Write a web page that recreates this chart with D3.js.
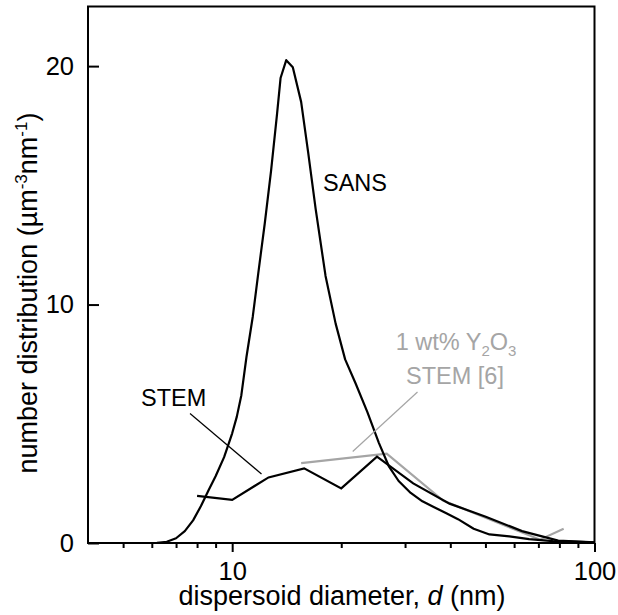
<!DOCTYPE html>
<html>
<head>
<meta charset="utf-8">
<script src="https://cdn.jsdelivr.net/npm/d3@7"></script>
<style>
  body { margin: 0; background: #fff; }
  text { font-family: "Liberation Sans", Arial, sans-serif; }
</style>
</head>
<body>
<svg id="chart" width="618" height="615"></svg>
<script>
// SANS size distribution (smooth curve)
var sansX = [4, 5.5, 6.2, 6.6, 7.0, 7.4, 7.8, 8.2, 8.6, 9.0, 9.5, 10.0, 10.3, 10.6, 10.95, 11.4, 11.8, 12.3, 12.8, 13.3, 13.6, 14.1, 14.7,
             15.5, 16.2, 17.0, 18.1, 19.3, 20.5, 21.9, 23.6, 25.4, 27.1, 28.8, 31.1, 33.5, 36.1, 39.0, 42.0, 46.4, 51.3, 58.2, 66.0, 76.7, 100];
var sansY = [0, 0, 0.01, 0.05, 0.2, 0.5, 0.95, 1.55, 2.2, 2.8, 3.6, 4.6, 5.3, 6.2, 7.8, 9.5, 11.3, 13.4, 15.6, 18.0, 19.5, 20.25, 19.95,
             18.5, 16.4, 14.0, 11.2, 9.2, 7.7, 6.7, 5.5, 4.2, 3.2, 2.6, 2.1, 1.75, 1.5, 1.25, 1.0, 0.6, 0.36, 0.28, 0.16, 0.08, 0.03];

// STEM histogram (this work)
var stemX = [8.0, 10.0, 12.6, 15.8, 20.0, 25.1, 31.6, 39.8, 50.1, 63.1, 79.4, 100];
var stemY = [1.98, 1.81, 2.75, 3.13, 2.29, 3.62, 2.5, 1.65, 1.1, 0.5, 0.1, 0.03];

// 1 wt% Y2O3, STEM [6]
var refX = [15.5, 26.7, 38.2, 70.7, 82.2];
var refY = [3.35, 3.75, 1.78, 0.14, 0.6];

var xMajor = [10, 100];
var xMinor = [5, 6, 7, 8, 9, 20, 30, 40, 50, 60, 70, 80, 90];
var yTicks = [0, 10, 20];

var svg = d3.select("#chart");
var plot = {left: 88, right: 594.5, top: 6.5, bottom: 543};

var x = d3.scaleLog().domain([4, 100]).range([plot.left, plot.right]);
var y = d3.scaleLinear().domain([0, 22.5]).range([plot.bottom, plot.top]);

var line = d3.line()
    .x(function(d) { return x(d[0]); })
    .y(function(d) { return y(d[1]); });

// frame
svg.append("rect")
    .attr("x", plot.left).attr("y", plot.top)
    .attr("width", plot.right - plot.left).attr("height", plot.bottom - plot.top)
    .attr("fill", "none").attr("stroke", "#000").attr("stroke-width", 2);

// x axis: minor then major ticks
var xMin = svg.append("g")
    .attr("transform", "translate(0," + plot.bottom + ")")
    .call(d3.axisBottom(x).tickValues(xMinor).tickSize(5).tickFormat(""));
var xMaj = svg.append("g")
    .attr("transform", "translate(0," + plot.bottom + ")")
    .call(d3.axisBottom(x).tickValues(xMajor).tickSize(9).tickPadding(10)
          .tickFormat(function(d) { return d; }));

// y axis, ticks pointing inward
var yAx = svg.append("g")
    .attr("transform", "translate(" + plot.left + ",0)")
    .call(d3.axisLeft(y).tickValues(yTicks).tickSizeInner(-11).tickSizeOuter(0).tickPadding(14));

[xMin, xMaj, yAx].forEach(function(g) {
  g.select(".domain").remove();
  g.selectAll("line").attr("stroke", "#000").attr("stroke-width", 2);
  g.selectAll("text").attr("fill", "#000")
    .style("font-size", "25.5px")
    .style("font-family", "'Liberation Sans', Arial, sans-serif");
});

// data lines
svg.append("path")
    .datum(d3.zip(refX, refY))
    .attr("d", line)
    .attr("fill", "none").attr("stroke", "#a5a5a5").attr("stroke-width", 2.2);

svg.append("path")
    .datum(d3.zip(stemX, stemY))
    .attr("d", line)
    .attr("fill", "none").attr("stroke", "#000").attr("stroke-width", 2.2);

svg.append("path")
    .datum(d3.zip(sansX, sansY))
    .attr("d", line)
    .attr("fill", "none").attr("stroke", "#000").attr("stroke-width", 2.2)
    .attr("stroke-linejoin", "round");

// leader lines
svg.append("line")
    .attr("x1", 190).attr("y1", 413.5).attr("x2", 261.5).attr("y2", 474)
    .attr("stroke", "#000").attr("stroke-width", 1.2);
svg.append("line")
    .attr("x1", 417.5).attr("y1", 392).attr("x2", 352.7).attr("y2", 451.5)
    .attr("stroke", "#a5a5a5").attr("stroke-width", 1.2);

// labels
svg.append("text").attr("x", 323).attr("y", 191).style("font-size", "23.5px").text("SANS");
svg.append("text").attr("x", 141).attr("y", 405.5).style("font-size", "23.5px").text("STEM");

var g1 = svg.append("text").attr("x", 456).attr("y", 350).attr("text-anchor", "middle")
    .style("font-size", "23.5px").attr("fill", "#a5a5a5");
g1.append("tspan").text("1 wt% Y");
g1.append("tspan").attr("dy", 6).style("font-size", "15px").text("2");
g1.append("tspan").attr("dy", -6).text("O");
g1.append("tspan").attr("dy", 6).style("font-size", "15px").text("3");
svg.append("text").attr("x", 455).attr("y", 384).attr("text-anchor", "middle")
    .style("font-size", "23.5px").attr("fill", "#a5a5a5").text("STEM [6]");

// axis titles
var xt = svg.append("text").attr("x", 342).attr("y", 605).attr("text-anchor", "middle")
    .style("font-size", "27px");
xt.append("tspan").text("dispersoid diameter, ");
xt.append("tspan").style("font-style", "italic").text("d");
xt.append("tspan").text(" (nm)");

var yt = svg.append("text")
    .attr("transform", "translate(37,293) rotate(-90)")
    .attr("text-anchor", "middle")
    .style("font-size", "27px");
yt.append("tspan").text("number distribution (\u00b5m");
yt.append("tspan").attr("dy", -10).style("font-size", "17px").text("-3");
yt.append("tspan").attr("dy", 10).text("nm");
yt.append("tspan").attr("dy", -10).style("font-size", "17px").text("-1");
yt.append("tspan").attr("dy", 10).text(")");
</script>
</body>
</html>
